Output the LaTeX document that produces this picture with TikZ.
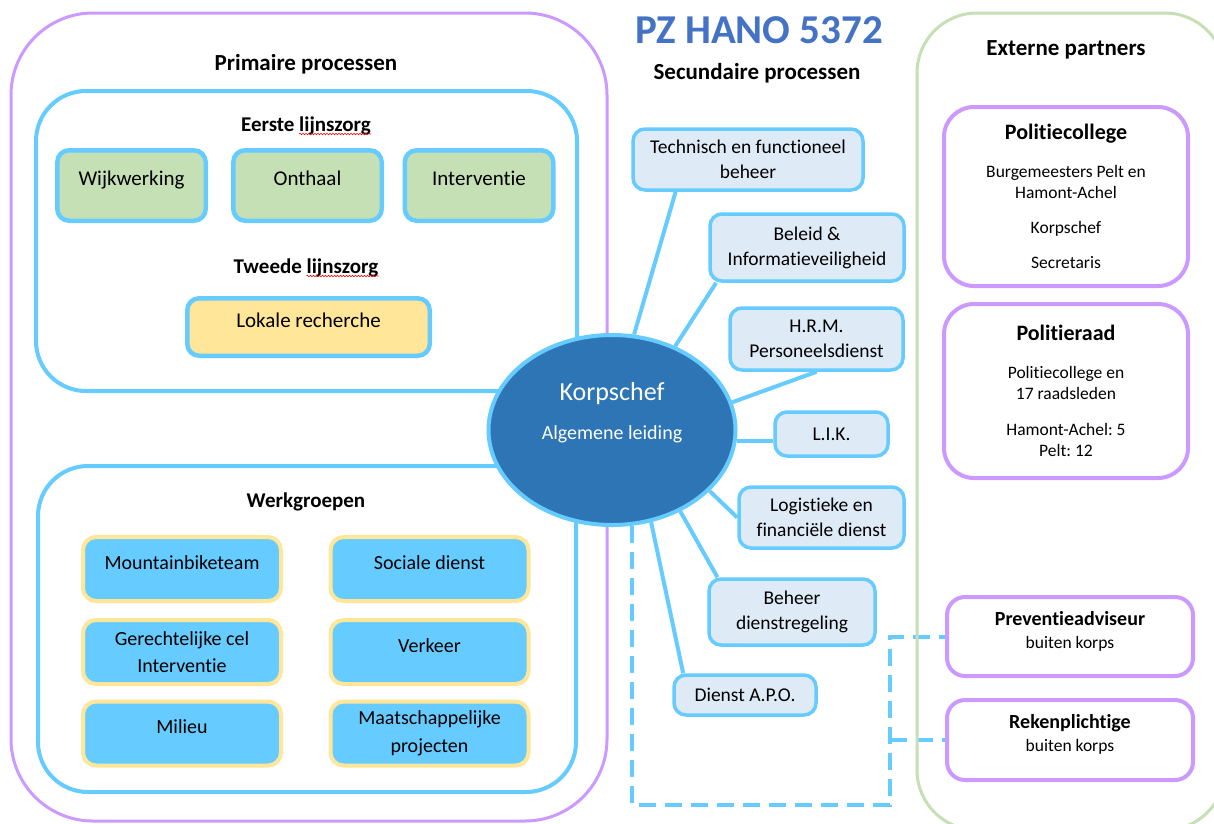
\documentclass[tikz,border=0pt]{standalone}
\usepackage{fontspec}
\setmainfont{Carlito}[Ligatures={NoCommon}]
\frenchspacing
\usetikzlibrary{calc,backgrounds,shapes.geometric,decorations.pathmorphing}
\definecolor{lav}{HTML}{CC99FF}
\definecolor{sky}{HTML}{66CCFF}
\definecolor{lgreen}{HTML}{C5E0B4}
\definecolor{lyellow}{HTML}{FFE699}
\definecolor{sec}{HTML}{DEEBF7}
\definecolor{korps}{HTML}{2E75B6}
\definecolor{titleblue}{HTML}{4472C4}
\definecolor{partner}{HTML}{C5E0B4}
\newcommand\fs[2]{\fontsize{#1}{#2}\selectfont}
\begin{document}
\begin{tikzpicture}[x=1pt,y=-1pt,
  every node/.style={inner sep=0pt},
  hdr/.style={font=\fs{23}{27}\bfseries, anchor=base},
  subhdr/.style={font=\fs{21}{25}\bfseries, anchor=base},
  up/.style={text height=14pt, text depth=14pt},
  gbox/.style={draw=sky, fill=lgreen, line width=4.5pt, rounded corners=12pt, minimum width=148.5pt, minimum height=70.5pt, font=\fs{21}{26}, up},
  ybox/.style={draw=sky, fill=lyellow, line width=4.5pt, rounded corners=12pt, minimum width=242.5pt, minimum height=57.5pt, font=\fs{21}{26}, up},
  wbox/.style={draw=lyellow, fill=sky, line width=4pt, rounded corners=13pt, minimum width=198pt, minimum height=64pt, font=\fs{20}{27.5}, align=center},
  sbox/.style={draw=sky, fill=sec, line width=3.5pt, rounded corners=12pt, font=\fs{19.5}{25}, align=center},
  pbox/.style={draw=lav, fill=white, line width=4pt, rounded corners=30pt, minimum width=244pt, font=\fs{17.5}{21}, align=center},
  xbox/.style={draw=lav, fill=white, line width=4pt, rounded corners=18pt, minimum width=246pt, font=\fs{17.5}{23}, align=center, text depth=13.5pt},
  link/.style={draw=sky, line width=4pt},
  dlink/.style={draw=sky, line width=4pt, dash pattern=on 17pt off 9pt},
  squiggle/.style={draw=red, line width=0.6pt, decorate, decoration={snake, amplitude=0.8pt, segment length=3pt}},
]
\useasboundingbox (0,0) rectangle (1214,823);
\begin{pgfonlayer}{background}
\fill[white] (0,0) rectangle (1214,823);
\end{pgfonlayer}

% containers
\draw[lav, line width=3pt, rounded corners=82pt] (11,13) rectangle (607,821);
\draw[sky, line width=4pt, rounded corners=50pt] (36,91) rectangle (577,391);
\draw[sky, line width=4pt, rounded corners=50pt] (38,466) rectangle (576,792);
\draw[partner, line width=3pt, rounded corners=60pt] (917,13) rectangle (1225,830);

% titles
\node[font=\fs{41}{46}\bfseries, text=titleblue, anchor=base] (title) at (759,43) {PZ HANO 5372};
\node[hdr] (prim) at (306,70) {Primaire processen};
\node[hdr] (secp) at (757,79) {Secundaire processen};
\node[hdr] (ext) at (1066,55) {Externe partners};
\node[subhdr] (eerste) at (306,131) {Eerste lijnszorg};
\node[subhdr] (tweede) at (306,273) {Tweede lijnszorg};
\node[subhdr] (werk) at (306,507) {Werkgroepen};
\draw[squiggle] ($(eerste.base east)+(-72,3)$) -- ($(eerste.base east)+(0,3)$);
\draw[squiggle] ($(tweede.base east)+(-72,3)$) -- ($(tweede.base east)+(0,3)$);

% primary boxes
\node[gbox] (wijk) at (131.5,185.5) {Wijkwerking};
\node[gbox] (onth) at (307.5,185.5) {Onthaal};
\node[gbox] (intv) at (479,185.5) {Interventie};
\node[ybox] (lok) at (308.5,327) {Lokale recherche};

\node[wbox, up] (mtb) at (182,569) {Mountainbiketeam};
\node[wbox, up] (soc) at (429.5,569) {Sociale dienst};
\node[wbox] (ger) at (182,652) {Gerechtelijke cel\\Interventie};
\node[wbox, up] (verk) at (429.5,652) {Verkeer};
\node[wbox, up] (mil) at (182,733.5) {Milieu};
\node[wbox] (maat) at (429.5,733.5) {Maatschappelijke\\projecten};

% central ellipse
\node[ellipse, draw=sky, fill=korps, line width=4pt, minimum width=247pt, minimum height=190pt,
      text=white, align=center, font=\fs{20}{24}, text depth=38pt] (ell) at (612,430)
      {{\fs{26}{30}Korpschef}\\[15.5pt]Algemene leiding};

% secondary boxes
\node[sbox, minimum width=230pt, minimum height=61pt] (tech) at (748,159.5) {Technisch en functioneel\\beheer};
\node[sbox, minimum width=194pt, minimum height=67pt] (beleid) at (807,247.5) {Beleid \&\\Informatieveiligheid};
\node[sbox, minimum width=173pt, minimum height=62pt] (hrm) at (816.5,339) {H.R.M.\\Personeelsdienst};
\node[sbox, minimum width=113pt, minimum height=44pt] (lik) at (831.5,434) {L.I.K.};
\node[sbox, minimum width=165pt, minimum height=61pt] (logis) at (821.5,517.5) {Logistieke en\\financiële dienst};
\node[sbox, minimum width=166pt, minimum height=66pt] (beheer) at (792,612) {Beheer\\dienstregeling};
\node[sbox, minimum width=142pt, minimum height=40pt] (apo) at (745,695) {Dienst A.P.O.};

% external partners
\node[pbox, minimum height=179pt] (pcol) at (1066,196.5)
  {{\fs{22}{26}\bfseries Politiecollege}\\[17pt]Burgemeesters Pelt en\\Hamont-Achel\\[14pt]Korpschef\\[14pt]Secretaris};
\node[pbox, minimum height=174pt] (praad) at (1066,391)
  {{\fs{22}{26}\bfseries Politieraad}\\[17pt]Politiecollege en\\17 raadsleden\\[15pt]Hamont-Achel: 5\\Pelt: 12};
\node[xbox, minimum height=79pt] (prev) at (1070,636.5) {{\fs{20}{24}\bfseries Preventieadviseur}\\buiten korps};
\node[xbox, minimum height=80pt] (reken) at (1070,740) {{\fs{20}{24}\bfseries Rekenplichtige}\\buiten korps};

\coordinate (dcorner) at (890,805);

\begin{pgfonlayer}{background}
\draw[link] (ell.77) -- ($(tech.south west)!0.19!(tech.south east)$);
\draw[link] (ell.53) -- ($(beleid.south west)!0.04!(beleid.south east)$);
\draw[link] (ell.13) -- (hrm.south);
\draw[link] (ell.-5) -- (ell.-5 -| lik.west);
\draw[link] (ell.-32) -- (logis.west);
\draw[link] (ell.-50) -- ($(beheer.north west)!0.06!(beheer.north east)$);
\draw[link] (ell.-67) -- ($(apo.north west)!0.075!(apo.north east)$);
\draw[dlink] (ell.-78) |- (dcorner) -- (dcorner |- prev.west) -- (prev.west);
\draw[dlink] (dcorner |- reken.west) -- (reken.west);
\end{pgfonlayer}
\end{tikzpicture}
\end{document}
